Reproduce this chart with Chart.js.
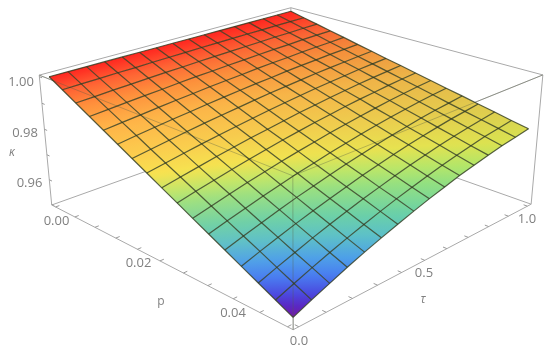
<!DOCTYPE html>
<html>
<head>
<meta charset="utf-8">
<script src="https://cdn.jsdelivr.net/npm/chart.js@4"></script>
<style>html,body{margin:0;padding:0;background:#fff}canvas{display:block;filter:blur(0.35px)}</style>
</head>
<body>
<canvas id="c" width="550" height="354"></canvas>
<script>
// ---------- data ----------
const pValues = [0,0.003125,0.00625,0.009375,0.0125,0.015625,0.01875,0.021875,0.025,0.028125,0.03125,0.034375,0.0375,0.040625,0.04375,0.046875,0.05];
const tauValues = [0,0.0667,0.1333,0.2,0.2667,0.3333,0.4,0.4667,0.5333,0.6,0.6667,0.7333,0.8,0.8667,0.9333,1];
const kappaP00 = [1,1,1,1,1,1,1,1,1,1,1,1,1,1,1,1];
const kappaP01 = [.9970,.9972,.9973,.9975,.9976,.9978,.9979,.9980,.9982,.9983,.9984,.9985,.9985,.9986,.9987,.9987];
const kappaP02 = [.9940,.9943,.9947,.9950,.9953,.9956,.9958,.9961,.9963,.9965,.9967,.9969,.9971,.9972,.9974,.9975];
const kappaP03 = [.9910,.9915,.9920,.9925,.9929,.9934,.9938,.9941,.9945,.9948,.9951,.9954,.9956,.9959,.9961,.9962];
const kappaP04 = [.9880,.9887,.9893,.9900,.9906,.9911,.9917,.9922,.9926,.9931,.9935,.9938,.9942,.9945,.9947,.9950];
const kappaP05 = [.9850,.9859,.9867,.9875,.9882,.9889,.9896,.9902,.9908,.9913,.9919,.9923,.9927,.9931,.9934,.9937];
const kappaP06 = [.9820,.9830,.9840,.9850,.9859,.9867,.9875,.9883,.9890,.9896,.9902,.9908,.9913,.9917,.9921,.9925];
const kappaP07 = [.9790,.9802,.9814,.9825,.9835,.9845,.9854,.9863,.9871,.9879,.9886,.9892,.9898,.9904,.9908,.9912];
const kappaP08 = [.9760,.9774,.9787,.9800,.9812,.9823,.9833,.9843,.9853,.9861,.9870,.9877,.9884,.9890,.9895,.9900];
const kappaP09 = [.9730,.9746,.9760,.9775,.9788,.9801,.9813,.9824,.9835,.9844,.9854,.9862,.9869,.9876,.9882,.9887];
const kappaP10 = [.9700,.9717,.9734,.9750,.9765,.9779,.9792,.9804,.9816,.9827,.9837,.9846,.9855,.9862,.9869,.9875];
const kappaP11 = [.9670,.9689,.9707,.9725,.9741,.9757,.9771,.9785,.9798,.9810,.9821,.9831,.9840,.9849,.9856,.9862];
const kappaP12 = [.9640,.9661,.9680,.9700,.9718,.9734,.9750,.9765,.9779,.9792,.9805,.9815,.9826,.9835,.9842,.9850];
const kappaP13 = [.9610,.9633,.9654,.9675,.9694,.9712,.9729,.9746,.9761,.9775,.9789,.9800,.9811,.9821,.9829,.9837];
const kappaP14 = [.9580,.9604,.9627,.9650,.9671,.9690,.9709,.9726,.9743,.9758,.9772,.9785,.9797,.9807,.9816,.9825];
const kappaP15 = [.9550,.9576,.9601,.9625,.9647,.9668,.9688,.9707,.9724,.9740,.9756,.9769,.9782,.9794,.9803,.9812];
const kappaP16 = [.9520,.9548,.9574,.9600,.9624,.9646,.9667,.9687,.9706,.9723,.9740,.9754,.9768,.9780,.9790,.9800];
const kappaRows = [kappaP00,kappaP01,kappaP02,kappaP03,kappaP04,kappaP05,kappaP06,kappaP07,kappaP08,kappaP09,kappaP10,kappaP11,kappaP12,kappaP13,kappaP14,kappaP15,kappaP16];

const pTicks = [0,0.005,0.01,0.015,0.02,0.025,0.03,0.035,0.04,0.045,0.05];
const tauTicks = [0,0.1,0.2,0.3,0.4,0.5,0.6,0.7,0.8,0.9,1];
const kappaTicks = [0.95,0.96,0.97,0.98,0.99,1];
const pTickLabels = ['0.00','0.02','0.04'];
const tauTickLabels = ['0.0','0.5','1.0'];
const kappaTickLabels = ['1.00','0.98','0.96'];
const axisTitles = ['κ','p','τ'];

// ---------- view: box ranges, camera calibration and styles ----------
const pRange = [-0.001,0.051], tauRange = [-0.02,1.02], kappaRange = [0.9497,1.0006];
// corners of the unit box [x=p, y=tau, z=kappa] -> where the box sits on the page
const boxCorners = [
  [0,0,0,51,204],[1,0,0,293,330],[0,1,0,292,121],[1,1,0,531,203],
  [0,0,1,40,75],[1,0,1,293,177],[0,1,1,290,7],[1,1,1,543,75]
];
const labelPositions = {
  '1.00':[21,82],'0.98':[25,133],'0.96':[29.5,183],
  '0.00':[56.5,221],'0.02':[138.5,263],'0.04':[233,313],
  '0.0':[299,341],'0.5':[424,273],'1.0':[527,219],
  'κ':[12,153],'p':[161,302],'τ':[423,300]
};
const colourStops = [
  [0.9520,[116,24,160]],[0.9539,[90,40,196]],[0.9558,[76,72,222]],[0.9587,[74,124,240]],
  [0.9616,[80,160,232]],[0.9650,[96,192,200]],[0.9683,[112,208,168]],[0.9730,[160,224,128]],
  [0.9755,[200,230,104]],[0.9785,[248,226,80]],[0.9827,[252,205,78]],[0.9885,[255,180,72]],
  [0.9930,[255,145,60]],[0.9966,[255,100,52]],[1,[255,38,32]]
];
const boxColour = '#a9a9a9', tickColour = '#9a9a9a', textColour = '#808080';
const hiddenEdgeColour = 'rgba(85,95,70,0.36)', meshColour = 'rgba(48,58,30,0.8)';
const farCornerRedLoss = 0.14;

// ---------- projection ----------
function solve(A,b){
  const n=b.length;
  for(let i=0;i<n;i++){
    let m=i;for(let r=i+1;r<n;r++)if(Math.abs(A[r][i])>Math.abs(A[m][i]))m=r;
    [A[i],A[m]]=[A[m],A[i]];[b[i],b[m]]=[b[m],b[i]];
    for(let r=i+1;r<n;r++){const f=A[r][i]/A[i][i];for(let c=i;c<n;c++)A[r][c]-=f*A[i][c];b[r]-=f*b[i];}
  }
  const x=new Array(n).fill(0);
  for(let i=n-1;i>=0;i--){let s=b[i];for(let c=i+1;c<n;c++)s-=A[i][c]*x[c];x[i]=s/A[i][i];}
  return x;
}
const cam=(function(){
  const rows=[],rhs=[];
  boxCorners.forEach(([x,y,z,u,v])=>{
    rows.push([x,y,z,1,0,0,0,0,-u*x,-u*y,-u*z]);rhs.push(u);
    rows.push([0,0,0,0,x,y,z,1,-v*x,-v*y,-v*z]);rhs.push(v);
  });
  const N=Array.from({length:11},()=>new Array(11).fill(0)),B=new Array(11).fill(0);
  rows.forEach((r,k)=>{for(let i=0;i<11;i++){B[i]+=r[i]*rhs[k];for(let j=0;j<11;j++)N[i][j]+=r[i]*r[j];}});
  return solve(N,B);
})();
function unit(p,t,k){return [(p-pRange[0])/(pRange[1]-pRange[0]),(t-tauRange[0])/(tauRange[1]-tauRange[0]),(k-kappaRange[0])/(kappaRange[1]-kappaRange[0])];}
function projectUnit(x,y,z){const w=cam[8]*x+cam[9]*y+cam[10]*z+1;return {x:(cam[0]*x+cam[1]*y+cam[2]*z+cam[3])/w,y:(cam[4]*x+cam[5]*y+cam[6]*z+cam[7])/w};}
function project(p,t,k){const u=unit(p,t,k);return projectUnit(u[0],u[1],u[2]);}

function colourAt(k){
  if(k<=colourStops[0][0])return colourStops[0][1];
  for(let i=1;i<colourStops.length;i++){
    if(k<=colourStops[i][0]){
      const a=colourStops[i-1],b=colourStops[i],t=(k-a[0])/(b[0]-a[0]);
      return a[1].map((v,c)=>v+(b[1][c]-v)*t);
    }
  }
  return colourStops[colourStops.length-1][1];
}
const css=(c,redFactor)=>'rgb('+c.map((v,i)=>Math.round(i===0?v*redFactor:v)).join(',')+')';

const canvas=document.getElementById('c'),ctx2d=canvas.getContext('2d');
function cellFill(a,b,d,c,ka,kb,kd,kc,rf){
  const ux=b.x-a.x,uy=b.y-a.y,vx=d.x-a.x,vy=d.y-a.y,det=ux*vy-uy*vx;
  const du=(kb+kc-ka-kd)/2,dv=(kd+kc-ka-kb)/2;
  const gx=(du*vy-dv*uy)/det,gy=(ux*dv-vx*du)/det,g2=gx*gx+gy*gy;
  const lo=Math.min(ka,kb,kc,kd),hi=Math.max(ka,kb,kc,kd),km=(ka+kb+kc+kd)/4;
  if(!(g2>0)||hi-lo<1e-7)return css(colourAt(km),rf);
  const mx=(a.x+b.x+c.x+d.x)/4,my=(a.y+b.y+c.y+d.y)/4;
  const gr=ctx2d.createLinearGradient(mx+gx*(lo-km)/g2,my+gy*(lo-km)/g2,mx+gx*(hi-km)/g2,my+gy*(hi-km)/g2);
  for(let s=0;s<=6;s++)gr.addColorStop(s/6,css(colourAt(lo+(hi-lo)*s/6),rf));
  return gr;
}

// ---------- datasets ----------
const datasets=[];
function line(points,colour,width,order){datasets.push({data:points,showLine:true,borderColor:colour,borderWidth:width,pointRadius:0,fill:false,order,tension:0,clip:false});}

// surface cells
for(let j=0;j<pValues.length-1;j++)for(let i=0;i<tauValues.length-1;i++){
  const a=project(pValues[j],tauValues[i],kappaRows[j][i]),b=project(pValues[j],tauValues[i+1],kappaRows[j][i+1]);
  const c=project(pValues[j+1],tauValues[i+1],kappaRows[j+1][i+1]),d=project(pValues[j+1],tauValues[i],kappaRows[j+1][i]);
  const rf=1-farCornerRedLoss*(tauValues[i]+tauValues[i+1])/2*(pValues[j]+pValues[j+1])/2/pValues[pValues.length-1];
  datasets.push({data:[a,b,c,d,a],showLine:true,borderWidth:0,borderColor:'transparent',pointRadius:0,tension:0,clip:false,order:4,
    fill:'shape',backgroundColor:cellFill(a,b,d,c,kappaRows[j][i],kappaRows[j][i+1],kappaRows[j+1][i],kappaRows[j+1][i+1],rf)});
}
// mesh
pValues.forEach((p,j)=>line(tauValues.map((t,i)=>project(p,t,kappaRows[j][i])),meshColour,1.2,1));
tauValues.forEach((t,i)=>line(pValues.map((p,j)=>project(p,t,kappaRows[j][i])),meshColour,1.2,1));
// box
const C=(x,y,z)=>projectUnit(x,y,z);
[[[0,0,0],[1,0,0]],[[1,0,0],[1,1,0]],[[1,1,0],[0,1,0]],[[0,1,0],[0,0,0]],
 [[0,0,1],[1,0,1]],[[1,0,1],[1,1,1]],[[1,1,1],[0,1,1]],[[0,1,1],[0,0,1]],
 [[0,0,0],[0,0,1]],[[1,0,0],[1,0,1]],[[1,1,0],[1,1,1]],[[0,1,0],[0,1,1]]]
 .forEach(e=>line([C(...e[0]),C(...e[1])],boxColour,1,6));
// box edges that show faintly through the surface
[[[0,0,1],[1,0,1]],[[1,0,1],[1,1,1]],[[1,0,0],[1,0,1]]]
 .forEach(e=>line([C(...e[0]),C(...e[1])],hiddenEdgeColour,1,3));
// ticks
pTicks.forEach(p=>line([project(p,tauRange[0],kappaRange[0]),project(p,tauRange[0]+0.014,kappaRange[0])],tickColour,1,5));
tauTicks.forEach(t=>line([project(pRange[1],t,kappaRange[0]),project(pRange[1]-0.0007,t,kappaRange[0])],tickColour,1,5));
kappaTicks.forEach(k=>line([project(pRange[0],tauRange[0],k),project(pRange[0]+0.0007,tauRange[0],k)],tickColour,1,5));

const textPlugin={id:'axisText',afterDraw(chart){
  const g=chart.ctx;g.save();g.fillStyle=textColour;g.textAlign='center';g.textBaseline='middle';
  g.font='13px "Open Sans", sans-serif';
  [...kappaTickLabels,...pTickLabels,...tauTickLabels].forEach(s=>{const q=labelPositions[s];g.fillText(s,q[0],q[1]);});
  axisTitles.forEach(s=>{const q=labelPositions[s];g.font=(s==='p'?'':'italic ')+'12px "Open Sans", sans-serif';g.fillText(s,q[0],q[1]);});
  g.restore();
}};

new Chart(canvas,{type:'scatter',data:{datasets},plugins:[textPlugin],options:{
  responsive:false,animation:false,events:[],layout:{padding:0},
  plugins:{legend:{display:false},tooltip:{enabled:false},title:{display:false}},
  scales:{x:{type:'linear',display:false,min:0,max:550},y:{type:'linear',display:false,min:0,max:354,reverse:true}}
}});
</script>
</body>
</html>
